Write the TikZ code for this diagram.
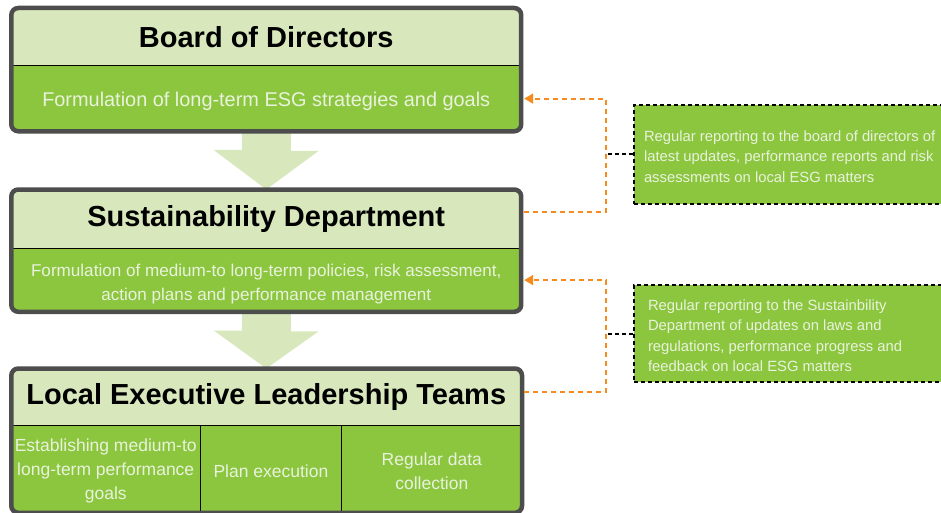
\documentclass[tikz,border=0pt]{standalone}
\usepackage{fontspec}
\setmainfont{Liberation Sans}
\usetikzlibrary{positioning,arrows.meta,backgrounds}

\definecolor{esglight}{HTML}{D8E8BC}
\definecolor{esggreen}{HTML}{8CC63F}
\definecolor{esgframe}{HTML}{4D4D4D}
\definecolor{esgorange}{HTML}{F68B1F}
\definecolor{esgtext}{HTML}{E9F2DC}

\begin{document}
\begin{tikzpicture}[x=1pt,y=-1pt,>={Triangle[length=9pt,width=10pt]},
   head/.style={minimum width=509.5pt,inner sep=0pt,font=\fontsize{29}{34}\selectfont\bfseries},
   body/.style={text width=509.5pt,inner sep=0pt,align=flush center,text=esgtext},
   cell/.style={text width=#1,inner sep=0pt,align=flush center,text=esgtext,minimum height=87pt,
      font=\fontsize{17.5}{24}\selectfont,strutup=16pt},
   strutup/.style={execute at begin node={\rule{0pt}{#1}}},
   frame/.style={draw=esgframe,line width=4.5pt,rounded corners=7pt},
   sep/.style={draw=black,line width=1.2pt},
   flow/.style={fill=esglight},
   report/.style={draw=esgorange,line width=2pt,dash pattern=on 5pt off 4pt},
   link/.style={draw=black,line width=2pt,dash pattern=on 4pt off 3pt},
   note/.style={draw=black,line width=2pt,dash pattern=on 4pt off 3pt,fill=esggreen,text=esgtext,
      align=flush left,anchor=north west,font=\fontsize{14.8}{20.5}\selectfont,strutup=15pt}]
   \useasboundingbox (0,0) rectangle (941,513);

   % 三つの組織
   \node[head,minimum height=57.5pt,anchor=north] (bod-head) at (266.25,8) {Board of Directors};
   \node[body,below=0pt of bod-head,minimum height=65pt,font=\fontsize{19.9}{24}\selectfont,strutup=20.5pt] (bod-body)
      {Formulation of long-term ESG strategies and goals};

   \node[head,minimum height=58.5pt,anchor=north] (sd-head) at (266.25,189.5) {Sustainability Department};
   \node[body,below=0pt of sd-head,minimum height=63pt,font=\fontsize{17.1}{24}\selectfont,strutup=19.5pt] (sd-body)
      {Formulation of medium-to long-term policies, risk assessment,\\action plans and performance management};

   \node[head,minimum height=56.5pt,anchor=north] (let-head) at (266.25,368.5) {Local Executive Leadership Teams};
   \node[cell=188.5pt,anchor=north west] (let-goal) at (let-head.south west)
      {Establishing medium-to\\long-term performance\\goals};
   \node[cell=141pt,right=0pt of let-goal] (let-plan) {Plan execution};
   \node[cell=180pt,right=0pt of let-plan] (let-data) {Regular data\\collection};

   % 報告の内容
   \node[note,inner xsep=10pt,text width=320pt,minimum height=99pt] (rep-board) at (633,104)
      {Regular reporting to the board of directors of\\latest updates, performance reports and risk\\assessments on local ESG matters};
   \node[note,inner xsep=14pt,text width=312pt,minimum height=97pt] (rep-sd) at (633,284)
      {Regular reporting to the Sustainbility\\Department of updates on laws and\\regulations, performance progress and\\feedback on local ESG matters};

   % 塗り
   \begin{scope}[on background layer]
      \begin{scope}
         \clip[rounded corners=7pt] (bod-head.north west) rectangle (bod-body.south east);
         \fill[esglight] (bod-head.north west) rectangle (bod-head.south east);
         \fill[esggreen] (bod-body.north west) rectangle (bod-body.south east);
      \end{scope}
      \begin{scope}
         \clip[rounded corners=7pt] (sd-head.north west) rectangle (sd-body.south east);
         \fill[esglight] (sd-head.north west) rectangle (sd-head.south east);
         \fill[esggreen] (sd-body.north west) rectangle (sd-body.south east);
      \end{scope}
      \begin{scope}
         \clip[rounded corners=7pt] (let-head.north west) rectangle (let-data.south east);
         \fill[esglight] (let-head.north west) rectangle (let-head.south east);
         \fill[esggreen] (let-goal.north west) rectangle (let-data.south east);
      \end{scope}
      % 下向きの矢印
      \fill[flow] ([xshift=-24.5pt]bod-body.south) -- ++(49,0) -- ++(0,19.5) -- ++(28,0)
         -- (sd-head.north) -- ++(-52.5,-39.5) -- ++(28,0) -- cycle;
      \fill[flow] ([xshift=-24.5pt]sd-body.south) -- ++(49,0) -- ++(0,19.5) -- ++(28,0)
         -- (let-head.north) -- ++(-52.5,-38) -- ++(28,0) -- cycle;
   \end{scope}

   % 枠線
   \draw[sep] (bod-head.south west) -- (bod-head.south east);
   \draw[sep] (sd-head.south west) -- (sd-head.south east);
   \draw[sep] (let-head.south west) -- (let-head.south east);
   \draw[sep] (let-goal.north east) -- (let-goal.south east);
   \draw[sep] (let-plan.north east) -- (let-plan.south east);
   \draw[frame] (bod-head.north west) rectangle (bod-body.south east);
   \draw[frame] (sd-head.north west) rectangle (sd-body.south east);
   \draw[frame] (let-head.north west) rectangle (let-data.south east);

   % 報告の流れ
   \draw[report,->] ([shift={(2.5pt,7pt)}]sd-head.east) -- ++(82,0) |- ([xshift=3pt]bod-body.east);
   \draw[link] (rep-board.west) -- ++(-28,0);
   \draw[report,->] ([shift={(2.5pt,5pt)}]let-head.east) -- ++(82,0) |- ([xshift=3pt]sd-body.east);
   \draw[link] (rep-sd.west) -- ++(-28,0);

\end{tikzpicture}
\end{document}
